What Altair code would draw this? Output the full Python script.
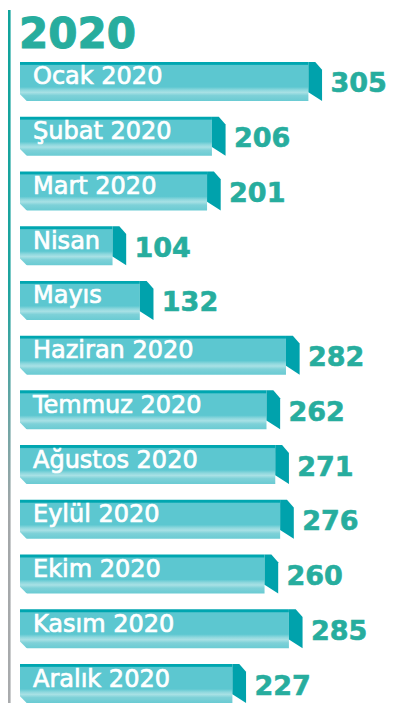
import altair as alt
import pandas as pd

# ---- data ----
TITLE = "2020"
months = ["Ocak 2020", "Şubat 2020", "Mart 2020", "Nisan", "Mayıs", "Haziran 2020",
          "Temmuz 2020", "Ağustos 2020", "Eylül 2020", "Ekim 2020", "Kasım 2020", "Aralık 2020"]
values = [305, 206, 201, 104, 132, 282, 262, 271, 276, 260, 285, 227]

df = pd.DataFrame({"label": months, "value": values})

# ---- styles ----
FRONT_TOP = "#00A6B0"
FRONT = "#5CC7D0"
SIDE = "#00A2AC"
NUM = "#27AD9E"
TOP = 54          # plot area top inside the svg
W, H = 388, 641   # plot area

y_enc = alt.Y("label:N", sort=None, axis=None,
              scale=alt.Scale(paddingInner=0.2874, paddingOuter=0))
x_scale = alt.Scale(domain=[0, 305], range=[3.2, 300.4])

base = alt.Chart(df)

front = base.mark_rect(
    color=alt.Gradient(
        gradient="linear", x1=0, x2=0, y1=0, y2=1,
        stops=[
            alt.GradientStop(color=FRONT_TOP, offset=0),
            alt.GradientStop(color=FRONT_TOP, offset=0.06),
            alt.GradientStop(color=FRONT, offset=0.09),
            alt.GradientStop(color=FRONT, offset=0.64),
            alt.GradientStop(color="#8FD8DE", offset=0.72),
            alt.GradientStop(color="#A8E1E5", offset=0.78),
            alt.GradientStop(color="#7ED1D8", offset=0.86),
            alt.GradientStop(color="#6ACBD3", offset=1),
        ],
    )
).encode(
    x=alt.X("value:Q", scale=x_scale, axis=None, stack=None),
    x2=alt.value(12),
    y=y_enc,
)

side = base.mark_point(
    shape="M0,-1 L0.35,-1 L0.7,-0.6 L0.7,1 L0,0.55 Z",
    filled=True, size=1521, color=SIDE, opacity=1, strokeWidth=0,
).encode(x=alt.X("value:Q", scale=x_scale), y=y_enc)

chamfer = base.mark_point(
    shape="M-0.1,0.55 L0.42,1.08 L-0.1,1.08 Z",
    filled=True, size=1521, color="white", opacity=1, strokeWidth=0,
).encode(x=alt.value(12), y=y_enc)

labels = base.mark_text(
    align="left", baseline="middle", dy=-4, color="white",
    stroke="white", strokeWidth=0.7,
    font="DejaVu Sans", fontSize=24,
).encode(x=alt.value(25), y=y_enc, text="label:N")

nums = base.mark_text(
    align="left", baseline="middle", dx=22, dy=3, color=NUM,
    stroke=NUM, strokeWidth=0.6,
    font="DejaVu Sans", fontWeight="bold", fontSize=27,
).encode(x=alt.X("value:Q", scale=x_scale), y=y_enc, text="value:Q")

one = alt.Chart(pd.DataFrame({"t": [TITLE]}))

vline = one.mark_rect(
    color=alt.Gradient(
        gradient="linear", x1=0, x2=0, y1=0, y2=1,
        stops=[
            alt.GradientStop(color="#10A39C", offset=0),
            alt.GradientStop(color="#1DA39E", offset=0.4),
            alt.GradientStop(color="#A2A6A8", offset=0.72),
            alt.GradientStop(color="#A9ABAD", offset=1),
        ],
    )
).encode(x=alt.value(0), x2=alt.value(2.6), y=alt.value(2 - TOP), y2=alt.value(H))

title = one.mark_text(
    align="left", baseline="alphabetic", color=NUM,
    stroke=NUM, strokeWidth=1,
    font="DejaVu Sans", fontWeight="bold", fontSize=42,
).encode(x=alt.value(11), y=alt.value(40 - TOP), text="t:N")

chart = alt.layer(vline, title, front, side, chamfer, labels, nums).properties(
    width=W, height=H, autosize=alt.AutoSizeParams(type="none"),
    padding={"left": 0, "top": TOP, "right": 0, "bottom": 0},
).configure_view(stroke=None)

chart.save("out.html", embed_options={"renderer": "svg", "actions": False})
